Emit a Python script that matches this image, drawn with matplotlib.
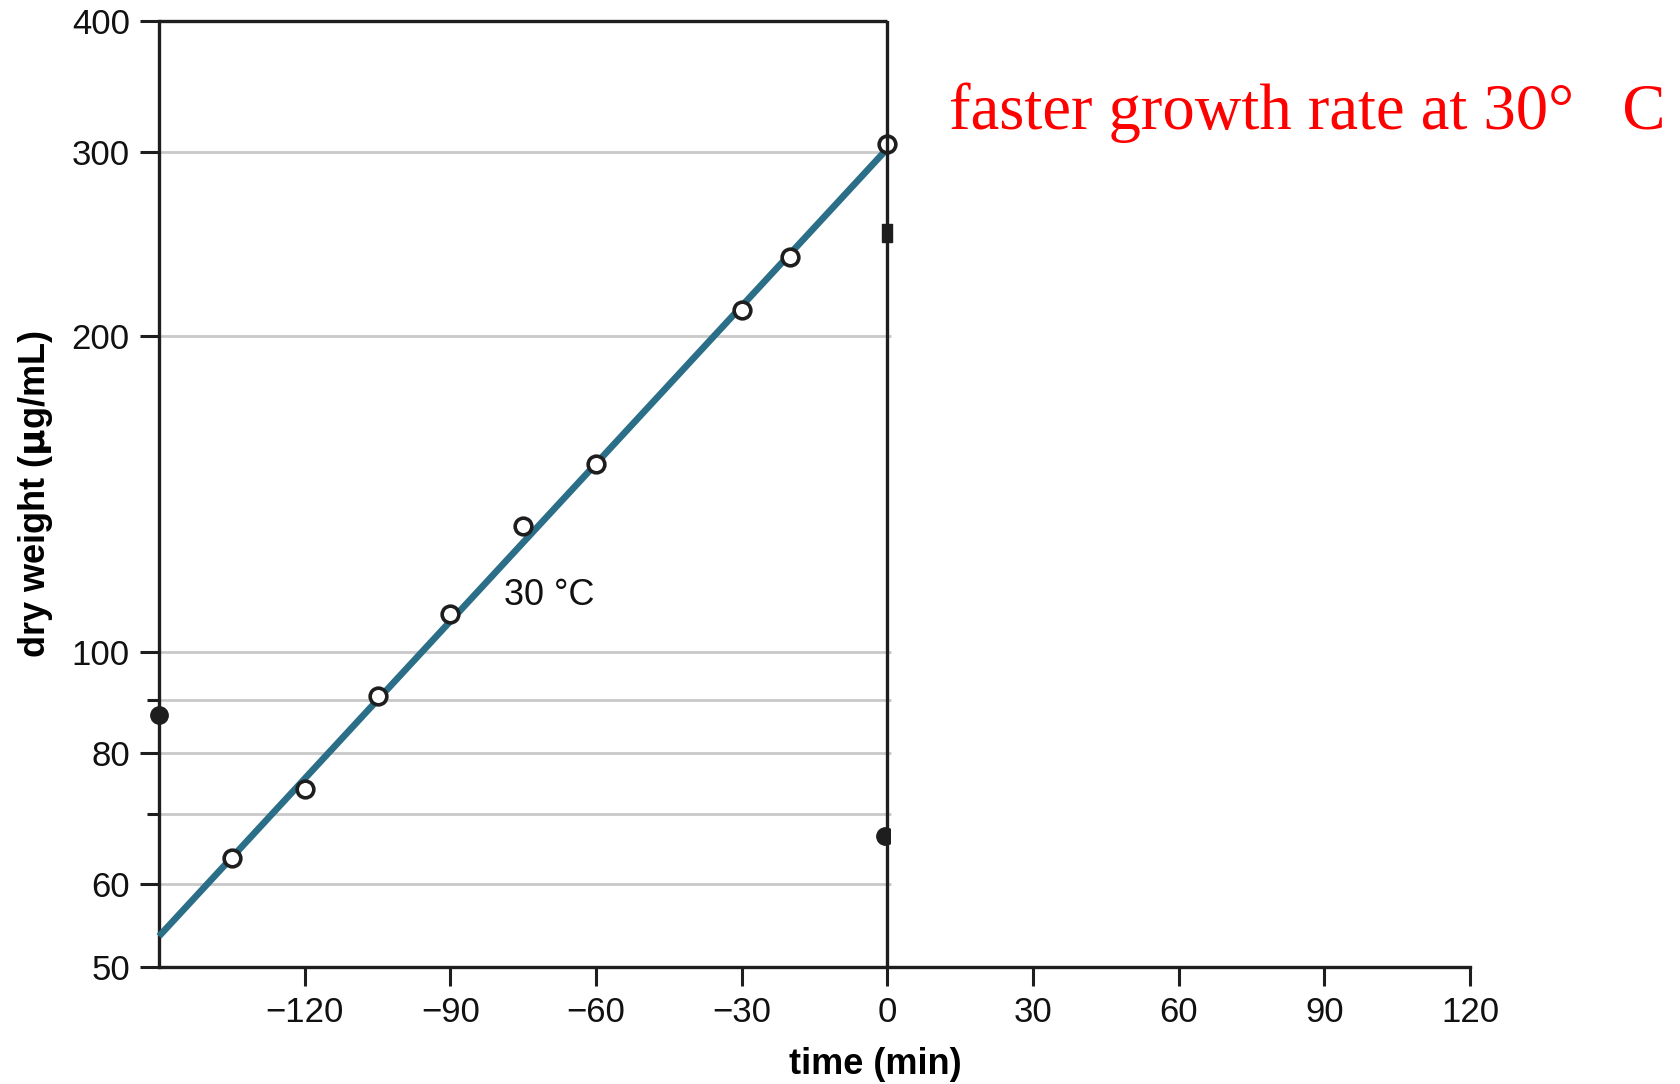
import matplotlib
matplotlib.use("Agg")
import matplotlib.pyplot as plt
from matplotlib.patches import Rectangle
from matplotlib.ticker import FixedLocator, NullFormatter, FixedFormatter

plt.rcParams['font.family'] = ['Liberation Sans', 'DejaVu Sans']

# data
time_30 = [-135, -120, -105, -90, -75, -60, -30, -20, 0]
dry_30 = [63.6, 74.0, 90.7, 108.5, 131.7, 151.0, 212.0, 238.0, 305.0]
fit_x = [-150, 0]
fit_y = [53.5, 302.0]
other_x = [-150, -0.4]
other_y = [87.0, 66.7]
sq_x = [0]
sq_y = [251.0]

x_ticks = [-120, -90, -60, -30, 0, 30, 60, 90, 120]
x_labels = ['\u2212120', '\u221290', '\u221260', '\u221230', '0', '30', '60', '90', '120']
y_major = [50, 60, 80, 100, 200, 300, 400]
y_minor = [70, 90]
grid_y = [60, 70, 80, 90, 100, 200, 300]

fig = plt.figure(figsize=(16.81, 10.84), dpi=100)
ax = fig.add_axes([0.0946, 0.1079, 0.7799, 0.873])
ax.set_yscale('log')
ax.set_xlim(-150, 120)
ax.set_ylim(50, 400)

dark = '#1e1e1e'
for y in grid_y:
    ax.hlines(y, -150, 0.8, color='#c9c9c9', lw=2.0, zorder=1)

clip = Rectangle((-160, 45), 160.5, 400, transform=ax.transData, visible=False)
ax.add_patch(clip)

ln, = ax.plot(fit_x, fit_y, color='#2b6e88', lw=4.8, solid_capstyle='butt', zorder=3)
ln.set_clip_on(True)
ln.set_clip_path(clip)
pts, = ax.plot(time_30, dry_30, 'o', ms=12, mfc='white', mec=dark, mew=2.6, zorder=5, clip_on=False)
oth, = ax.plot(other_x, other_y, 'o', ms=12.5, color=dark, zorder=4)
oth.set_clip_on(True)
oth.set_clip_path(clip)
rect_marker = [(-0.5, -1), (0.5, -1), (0.5, 1), (-0.5, 1), (-0.5, -1)]
ax.plot(sq_x, sq_y, marker=rect_marker, ls='none', ms=13, color=dark, zorder=4, clip_on=False)

ax.axvline(0, color=dark, lw=2.4, zorder=6)
ax.hlines(400, -150, 0, color=dark, lw=2.4, clip_on=False, zorder=6)

for s in ['top', 'right']:
    ax.spines[s].set_visible(False)
for s in ['left', 'bottom']:
    ax.spines[s].set_linewidth(2.4)
    ax.spines[s].set_color(dark)

ax.yaxis.set_major_locator(FixedLocator(y_major))
ax.yaxis.set_minor_locator(FixedLocator(y_minor))
ax.yaxis.set_major_formatter(FixedFormatter([str(v) for v in y_major]))
ax.yaxis.set_minor_formatter(NullFormatter())
ax.set_xticks(x_ticks)
ax.set_xticklabels(x_labels)
ax.tick_params(axis='both', which='major', direction='out', length=14, width=2.2, color=dark,
               labelsize=25, labelcolor='#111111', pad=7)
ax.tick_params(axis='y', which='minor', direction='out', length=9, width=2.2, color=dark)

ax.set_ylabel('dry weight ($\\mathbf{\\mu}$g/mL)', fontsize=26, fontweight='bold', labelpad=12)
ax.set_xlabel('time (min)', fontsize=26, fontweight='bold')
ax.xaxis.set_label_coords((-2.5 + 150) / 270, -0.085)

ax.text(-79, 113, '30 \u00b0C', fontsize=26, color='#111111', va='center', ha='left')

fig.text(949 / 1681, 1 - 129 / 1084, 'faster growth rate at 30\u00b0   C', color='#ff0000',
         fontsize=46.5, family=['Liberation Serif', 'DejaVu Serif'], va='baseline', ha='left')

fig.savefig('out.png', dpi=100)
